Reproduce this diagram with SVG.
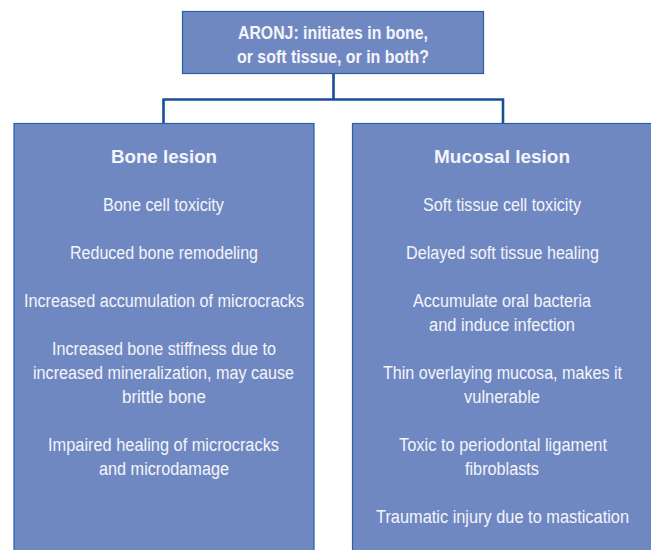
<svg xmlns="http://www.w3.org/2000/svg" width="651" height="550" viewBox="0 0 651 550">
<style>
.box{fill:#7088c1;stroke:#2a5ea8;stroke-width:1.2}
.t{font-family:"Liberation Sans Narrow","Liberation Sans",Arial,sans-serif;font-size:18px;fill:#f4f5fa;text-anchor:middle}
.b{font-weight:bold;font-size:19px}
.h{font-weight:bold;font-size:18px}
.c{fill:none;stroke:#1a4e96;stroke-width:2.6}
</style>
<rect width="651" height="550" fill="#ffffff"/>
<g id="connectors">
<path class="c" d="M333.5 74 V99.5 M163.5 123 V99.5 H503 V123"/>
</g>
<g id="top">
<rect class="box" x="182.5" y="11.5" width="301" height="62"/>
<text class="t h" x="333" y="38.5" textLength="190" lengthAdjust="spacingAndGlyphs">ARONJ: initiates in bone,</text>
<text class="t h" x="333" y="62.5" textLength="192" lengthAdjust="spacingAndGlyphs">or soft tissue, or in both?</text>
</g>
<g id="bone">
<rect class="box" x="14" y="123.5" width="300" height="440"/>
<text class="t b" x="164" y="163" textLength="106" lengthAdjust="spacingAndGlyphs">Bone lesion</text>
<text class="t" x="163.5" y="211" textLength="121" lengthAdjust="spacingAndGlyphs">Bone cell toxicity</text>
<text class="t" x="164" y="259" textLength="188" lengthAdjust="spacingAndGlyphs">Reduced bone remodeling</text>
<text class="t" x="164" y="307" textLength="280" lengthAdjust="spacingAndGlyphs">Increased accumulation of microcracks</text>
<text class="t" x="164" y="355" textLength="224" lengthAdjust="spacingAndGlyphs">Increased bone stiffness due to</text>
<text class="t" x="163.5" y="379" textLength="261" lengthAdjust="spacingAndGlyphs">increased mineralization, may cause</text>
<text class="t" x="164" y="403" textLength="84" lengthAdjust="spacingAndGlyphs">brittle bone</text>
<text class="t" x="163.5" y="451" textLength="231" lengthAdjust="spacingAndGlyphs">Impaired healing of microcracks</text>
<text class="t" x="164" y="475" textLength="130" lengthAdjust="spacingAndGlyphs">and microdamage</text>
</g>
<g id="mucosal">
<rect class="box" x="352.5" y="123.5" width="310" height="440"/>
<text class="t b" x="502" y="163" textLength="136" lengthAdjust="spacingAndGlyphs">Mucosal lesion</text>
<text class="t" x="502" y="211" textLength="158" lengthAdjust="spacingAndGlyphs">Soft tissue cell toxicity</text>
<text class="t" x="502.5" y="259" textLength="193" lengthAdjust="spacingAndGlyphs">Delayed soft tissue healing</text>
<text class="t" x="502" y="307" textLength="178" lengthAdjust="spacingAndGlyphs">Accumulate oral bacteria</text>
<text class="t" x="502" y="331" textLength="146" lengthAdjust="spacingAndGlyphs">and induce infection</text>
<text class="t" x="502.5" y="379" textLength="239" lengthAdjust="spacingAndGlyphs">Thin overlaying mucosa, makes it</text>
<text class="t" x="502" y="403" textLength="76" lengthAdjust="spacingAndGlyphs">vulnerable</text>
<text class="t" x="503" y="451" textLength="208" lengthAdjust="spacingAndGlyphs">Toxic to periodontal ligament</text>
<text class="t" x="502" y="475" textLength="74" lengthAdjust="spacingAndGlyphs">fibroblasts</text>
<text class="t" x="502.5" y="523" textLength="253" lengthAdjust="spacingAndGlyphs">Traumatic injury due to mastication</text>
</g>
</svg>
